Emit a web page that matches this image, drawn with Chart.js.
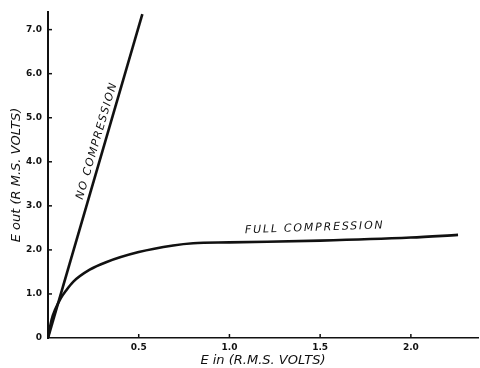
<!DOCTYPE html>
<html><head><meta charset="utf-8">
<script src="https://cdn.jsdelivr.net/npm/chart.js@4/dist/chart.umd.min.js"></script>
<style>html,body{margin:0;padding:0;background:#fff}#w{width:480px;height:368px}</style>
</head><body><div id="w"><canvas id="c"></canvas></div>
<script>
const noCompIn  = [0, 0.52];
const noCompOut = [0, 7.35];
const fullIn  = [0, 0.02, 0.04, 0.07, 0.1, 0.14, 0.23, 0.32, 0.5, 0.69, 0.8, 1.0, 1.5, 2.0, 2.26];
const fullOut = [0, 0.42, 0.65, 0.9, 1.08, 1.28, 1.55, 1.72, 1.95, 2.1, 2.15, 2.17, 2.21, 2.28, 2.34];
const xTicks = [0.5, 1.0, 1.5, 2.0];
const yTicks = [0, 1, 2, 3, 4, 5, 6, 7];
const labelNo = "NO COMPRESSION";
const labelFull = "FULL COMPRESSION";
const xTitle = "E in (R.M.S. VOLTS)";
const yTitle = "E out (R M.S. VOLTS)";

const pts = (xs, ys) => xs.map((x, i) => ({x, y: ys[i]}));

const deco = {
  id: 'deco',
  afterDraw(chart) {
    const ctx = chart.ctx, xs = chart.scales.x, ys = chart.scales.y;
    ctx.save();
    ctx.strokeStyle = '#111'; ctx.lineWidth = 1.5;
    const y0 = ys.getPixelForValue(0), x0 = xs.getPixelForValue(0);
    xTicks.forEach(v => { const p = xs.getPixelForValue(v); ctx.beginPath(); ctx.moveTo(p, y0); ctx.lineTo(p, y0 - 4); ctx.stroke(); });
    yTicks.forEach(v => { if (!v) return; const p = ys.getPixelForValue(v); ctx.beginPath(); ctx.moveTo(x0, p); ctx.lineTo(x0 + 4, p); ctx.stroke(); });
    ctx.fillStyle = '#111';
    ctx.textAlign = 'center'; ctx.textBaseline = 'middle';
    ctx.save();
    ctx.font = 'italic 11px "DejaVu Sans"';
    ctx.letterSpacing = '1.5px';
    ctx.translate(xs.getPixelForValue(0.27), ys.getPixelForValue(4.48));
    ctx.rotate(-73.6 * Math.PI / 180);
    ctx.fillText(labelNo, 0, 0);
    ctx.restore();
    ctx.save();
    ctx.font = 'italic 11px "DejaVu Sans"';
    ctx.letterSpacing = '1.8px';
    ctx.translate(xs.getPixelForValue(1.47), ys.getPixelForValue(2.5));
    ctx.rotate(-2 * Math.PI / 180);
    ctx.fillText(labelFull, 0, 0);
    ctx.restore();
    ctx.restore();
  }
};

new Chart(document.getElementById('c'), {
  type: 'scatter',
  data: {
    datasets: [
      {data: pts(noCompIn, noCompOut), showLine: true, borderColor: '#111', borderWidth: 2.6, pointRadius: 0, tension: 0},
      {data: pts(fullIn, fullOut), showLine: true, borderColor: '#111', borderWidth: 2.6, pointRadius: 0, cubicInterpolationMode: 'monotone'}
    ]
  },
  options: {
    responsive: true, maintainAspectRatio: false, animation: false,
    layout: {padding: {top: 12, right: 2, left: 9, bottom: 0}},
    plugins: {legend: {display: false}, tooltip: {enabled: false}},
    scales: {
      x: {
        type: 'linear', min: 0, max: 2.37,
        afterFit(s) { s.height = 30; },
        afterBuildTicks(s) { s.ticks = xTicks.map(v => ({value: v})); },
        grid: {display: false, drawTicks: false},
        border: {display: true, color: '#111', width: 1.5},
        ticks: {color: '#111', font: {family: 'DejaVu Sans', size: 9, weight: 'bold'}, padding: 4, maxRotation: 0, callback: v => v.toFixed(1)},
        title: {display: true, text: xTitle, color: '#111', font: {family: 'DejaVu Sans', size: 13, style: 'italic'}, padding: {top: 0, bottom: 0}}
      },
      y: {
        type: 'linear', min: 0, max: 7.4,
        afterFit(s) { s.width = 39; },
        afterBuildTicks(s) { s.ticks = yTicks.map(v => ({value: v})); },
        grid: {display: false, drawTicks: false},
        border: {display: true, color: '#111', width: 2},
        ticks: {color: '#111', font: {family: 'DejaVu Sans', size: 9, weight: 'bold'}, padding: 6, callback: v => v === 0 ? '0' : v.toFixed(1)},
        title: {display: true, text: yTitle, color: '#111', font: {family: 'DejaVu Sans', size: 13, style: 'italic'}, padding: {top: 0, bottom: 0}}
      }
    }
  },
  plugins: [deco]
});
</script></body></html>
